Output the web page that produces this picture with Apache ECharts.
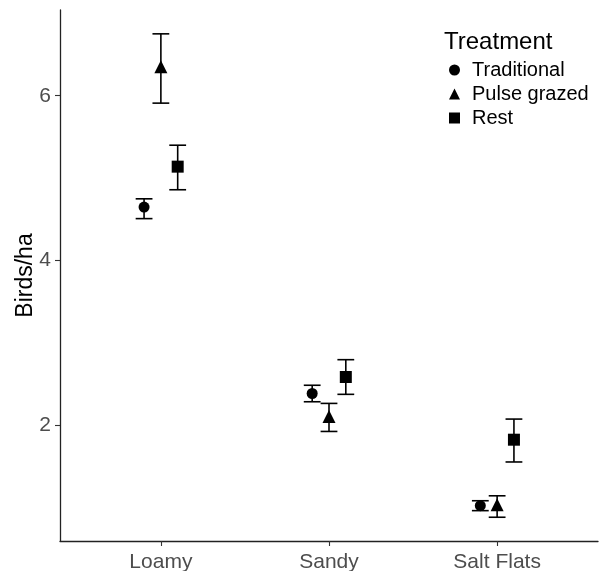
<!DOCTYPE html>
<html>
<head>
<meta charset="utf-8">
<script src="https://cdn.jsdelivr.net/npm/echarts@6/dist/echarts.min.js"></script>
<style>
html,body{margin:0;padding:0;background:#fff;}
#chart{width:601px;height:571px;}
</style>
</head>
<body>
<div id="chart"></div>
<script>
// ---- data ----
var categories = ['Loamy', 'Sandy', 'Salt Flats'];
var treatments = ['Traditional', 'Pulse grazed', 'Rest'];
var yTicks = [2, 4, 6];

var traditionalMean = [4.65, 2.39, 1.03];
var traditionalLow  = [4.51, 2.29, 0.97];
var traditionalHigh = [4.75, 2.49, 1.09];

var pulseMean = [6.35, 2.11, 1.04];
var pulseLow  = [5.91, 1.93, 0.89];
var pulseHigh = [6.75, 2.27, 1.15];

var restMean = [5.14, 2.59, 1.83];
var restLow  = [4.86, 2.38, 1.56];
var restHigh = [5.40, 2.80, 2.08];

// ---- build ----
var FONT = '"Liberation Sans", Arial, sans-serif';
var dodge = [-0.1, 0, 0.1];
var capHalf = 0.05;
var symbols = ['circle', 'triangle', 'rect'];
var sizes = [11, 13, 12];
var means = [traditionalMean, pulseMean, restMean];
var lows = [traditionalLow, pulseLow, restLow];
var highs = [traditionalHigh, pulseHigh, restHigh];

var series = [];
treatments.forEach(function (t, ti) {
  var errData = categories.map(function (c, ci) {
    return [ci + 1 + dodge[ti], lows[ti][ci], highs[ti][ci]];
  });
  series.push({
    type: 'custom',
    name: t + ' err',
    data: errData,
    z: 2,
    silent: true,
    renderItem: function (params, api) {
      var x = api.value(0), lo = api.value(1), hi = api.value(2);
      var pLo = api.coord([x, lo]);
      var pHi = api.coord([x, hi]);
      var pL = api.coord([x - capHalf, lo]);
      var pR = api.coord([x + capHalf, lo]);
      var st = { stroke: '#000', lineWidth: 1.6 };
      return {
        type: 'group',
        children: [
          { type: 'line', shape: { x1: pLo[0], y1: pLo[1], x2: pHi[0], y2: pHi[1] }, style: st },
          { type: 'line', shape: { x1: pL[0], y1: pLo[1], x2: pR[0], y2: pLo[1] }, style: st },
          { type: 'line', shape: { x1: pL[0], y1: pHi[1], x2: pR[0], y2: pHi[1] }, style: st }
        ]
      };
    }
  });
  series.push({
    type: 'scatter',
    name: t,
    symbol: symbols[ti],
    symbolSize: sizes[ti],
    itemStyle: { color: '#000', opacity: 1 },
    z: 3,
    data: categories.map(function (c, ci) {
      return [ci + 1 + dodge[ti], means[ti][ci]];
    })
  });
});

var chart = echarts.init(document.getElementById('chart'), null, { renderer: 'canvas' });
chart.setOption({
  animation: false,
  backgroundColor: '#fff',
  textStyle: { fontFamily: FONT },
  grid: { left: 60, right: 3, top: 10, bottom: 30, containLabel: false, outerBoundsMode: 'none' },
  title: {
    text: 'Treatment',
    left: 439,
    top: 25,
    textStyle: { fontFamily: FONT, fontSize: 24, fontWeight: 'normal', color: '#000' }
  },
  legend: {
    orient: 'vertical',
    left: 444,
    top: 55,
    itemWidth: 11,
    itemHeight: 11,
    itemGap: 4,
    data: treatments,
    textStyle: { fontFamily: FONT, fontSize: 20, color: '#000', lineHeight: 20, padding: [0, 0, 0, 7] },
    selectedMode: false
  },
  xAxis: {
    type: 'value',
    min: 0.4,
    max: 3.6,
    splitLine: { show: false },
    axisLine: { show: true, onZero: false, lineStyle: { color: '#222', width: 1.3 } },
    axisTick: { show: true, customValues: [1, 2, 3], length: 5, lineStyle: { color: '#333', width: 1.1 } },
    axisLabel: {
      customValues: [1, 2, 3],
      formatter: function (v) { return categories[Math.round(v) - 1]; },
      fontFamily: FONT, fontSize: 21, color: '#4D4D4D', margin: 11
    }
  },
  yAxis: {
    type: 'value',
    min: 0.602,
    max: 7.039,
    name: 'Birds/ha',
    nameLocation: 'middle',
    nameGap: 23,
    nameMoveOverlap: false,
    nameTextStyle: { fontFamily: FONT, fontSize: 23, color: '#000' },
    splitLine: { show: false },
    axisLine: { show: true, onZero: false, lineStyle: { color: '#222', width: 1.3 } },
    axisTick: { show: true, customValues: yTicks, length: 5, lineStyle: { color: '#333', width: 1.1 } },
    axisLabel: {
      customValues: yTicks,
      fontFamily: FONT, fontSize: 21, color: '#4D4D4D', margin: 9
    }
  },
  series: series
});
</script>
</body>
</html>
